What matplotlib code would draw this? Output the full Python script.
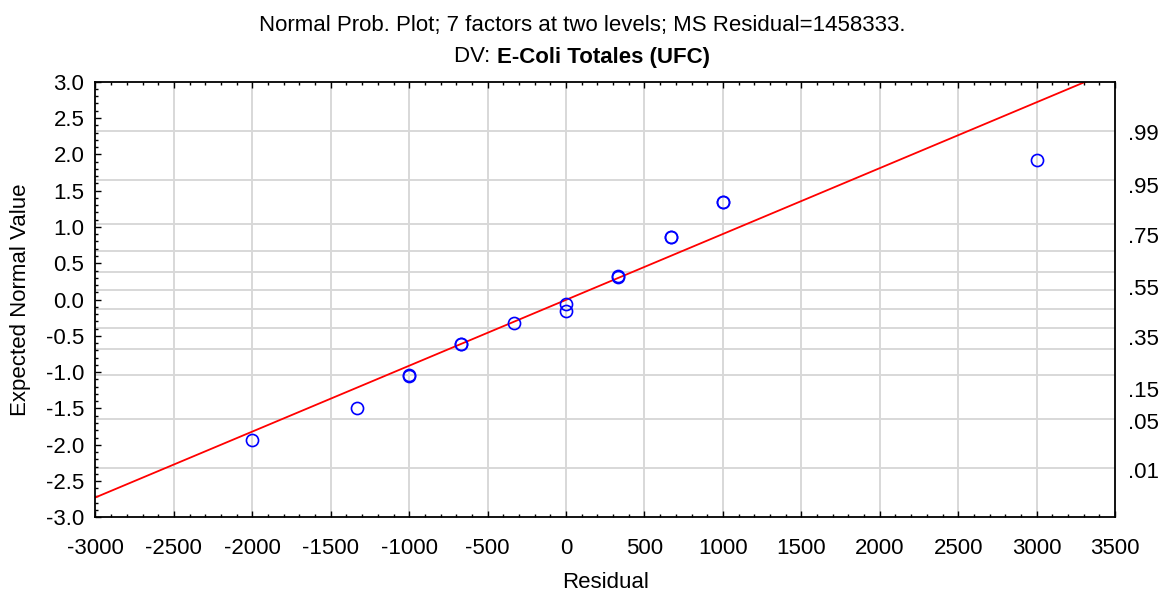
import matplotlib
matplotlib.use("Agg")
import matplotlib.pyplot as plt
from matplotlib.ticker import MultipleLocator, NullFormatter
from statistics import NormalDist

plt.rcParams['font.family'] = ['Liberation Sans', 'DejaVu Sans']
plt.rcParams['font.size'] = 16
plt.rcParams['axes.unicode_minus'] = False

# Residuals and their expected normal values (repeated entries are tied runs)
residual = [-2000, -1333, -1000, -1000, -667, -667, -333, 0, 0,
            333, 333, 667, 667, 1000, 1000, 3000]
expected = [-1.935, -1.499, -1.05, -1.04, -0.617, -0.612, -0.32, -0.065, -0.16,
            0.314, 0.318, 0.865, 0.868, 1.347, 1.35, 1.921]

# Fitted reference line: expected = slope * residual + intercept
slope = 0.000907
intercept = -0.004

# Probability scale on the right
prob_grid = [.01, .05, .15, .25, .35, .45, .55, .65, .75, .85, .95, .99]
prob_labels = ['.01', '.05', '.15', '.35', '.55', '.75', '.95', '.99']
prob_label_pos = [-2.35, -1.67, -1.23, -0.51, 0.176, 0.888, 1.577, 2.31]

title1 = "Normal Prob. Plot; 7 factors at two levels; MS Residual=1458333."
title2a = "DV: "
title2b = "E-Coli Totales (UFC)"

fig = plt.figure(figsize=(11.64, 5.92), dpi=100)
ax = fig.add_axes([0.082, 0.126, 0.876, 0.736])

xmin, xmax = -3000, 3500
ax.set_xlim(xmin, xmax)
ax.set_ylim(-3, 3)

grid_c = '#d8d8d8'
for xv in range(-2500, 3500, 500):
    ax.axvline(xv, color=grid_c, lw=1.4, zorder=0)
for p in prob_grid:
    ax.axhline(NormalDist().inv_cdf(p), color=grid_c, lw=1.4, zorder=0)

xs = [xmin, xmax]
ax.plot(xs, [slope * v + intercept for v in xs], color='#ff0000', lw=1.3, zorder=2)
ax.plot(residual, expected, 'o', ms=8.7, mfc='none', mec='#0000ff', mew=1.2, zorder=3)

ax.xaxis.set_major_locator(MultipleLocator(500))
ax.xaxis.set_minor_locator(MultipleLocator(100))
ax.yaxis.set_major_locator(MultipleLocator(0.5))
ax.yaxis.set_minor_locator(MultipleLocator(0.1))
ax.yaxis.set_major_formatter(plt.FuncFormatter(lambda v, _: f"{v:.1f}"))
ax.tick_params(which='both', direction='in', top=True, right=True, width=1, colors='black')
ax.tick_params(which='major', length=4)
ax.tick_params(which='minor', length=2)
ax.tick_params(axis='x', pad=15)
ax.tick_params(axis='y', pad=8)
for s in ax.spines.values():
    s.set_linewidth(1.3)

# Right-hand probability labels
ax2 = ax.twinx()
ax2.set_ylim(-3, 3)
ax2.set_yticks(prob_label_pos)
ax2.set_yticklabels(prob_labels)
ax2.tick_params(axis='y', length=0, pad=9)
ax2.yaxis.set_minor_formatter(NullFormatter())
for s in ax2.spines.values():
    s.set_visible(False)

ax.set_xlabel("Residual", labelpad=9)
ax.set_ylabel("Expected Normal Value", labelpad=11)

fig.text(0.5, 1 - 25 / 592, title1, ha='center', va='center')
# Second title line: plain prefix followed by a bold variable name
fig.canvas.draw()
r = fig.canvas.get_renderer()
ta = fig.text(0, 1 - 57 / 592, title2a, ha='left', va='center')
tb = fig.text(0, 1 - 57 / 592, title2b, ha='left', va='center', fontweight='bold')
wa = ta.get_window_extent(r).width
wb = tb.get_window_extent(r).width
W = fig.bbox.width
x0 = (W - wa - wb) / 2
ta.set_x(x0 / W)
tb.set_x((x0 + wa) / W)

fig.savefig("out.png", dpi=100)
